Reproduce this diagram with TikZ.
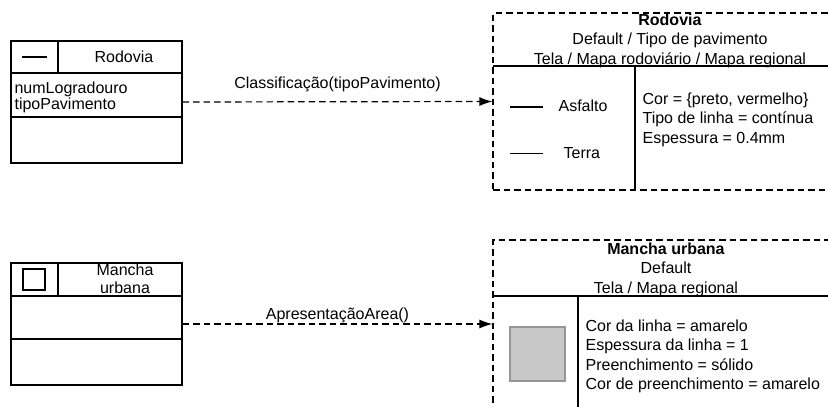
\documentclass[tikz,border=0pt]{standalone}
\usepackage{fontspec}
\setmainfont{Liberation Sans}
\usetikzlibrary{arrows.meta}
\definecolor{areafill}{RGB}{200,200,200}
\definecolor{areadraw}{RGB}{150,150,150}
\begin{document}
\begin{tikzpicture}[x=1pt,y=-1pt,line width=1.2pt,
  txt/.style={inner sep=0pt,font=\fontsize{16}{19.5}\selectfont},
  classbox/.style={draw,inner sep=0pt,minimum width=171pt,minimum height=122pt},
  legbox/.style={draw,inner sep=0pt,dash pattern=on 6.5pt off 4pt},
  dep/.style={-{Latex[length=13pt,width=9pt]},dash pattern=on 6.5pt off 4pt}]
  \useasboundingbox (0,0) rectangle (828,407);

  % classes on the left
  \node[classbox] (rod) at (96.5,102) {};
  \draw (11,73) -- (182,73);
  \draw (11,117) -- (182,117);
  \draw (58,41) -- (58,73);
  \draw (22,57) -- (47,57);
  \node[txt] (rodname) at (124,57) {Rodovia};
  \node[txt,align=left,anchor=west,font=\fontsize{16}{16.5}\selectfont] (rodattr) at (14,97.5) {numLogradouro\\tipoPavimento};

  \node[classbox] (mancha) at (96.5,324) {};
  \draw (11,296) -- (182,296);
  \draw (11,339) -- (182,339);
  \draw (58,263) -- (58,296);
  \draw (23,269) rectangle (45,290);
  \node[txt,align=center,font=\fontsize{16}{18}\selectfont] (manchaname) at (125,279) {Mancha\\urbana};

  % legends on the right
  \node[legbox,minimum width=357pt,minimum height=177pt] (rodleg) at (671.5,101.5) {};
  \draw (493,66) -- (850,66);
  \draw (635,66) -- (635,190);
  \node[txt,align=center,anchor=north] (rodhead) at (670,13) {\textbf{Rodovia}\\Default / Tipo de pavimento\\Tela / Mapa rodoviário / Mapa regional};
  \draw[line width=1.6pt] (510,107) -- (543,107);
  \node[txt,anchor=west] (asfalto) at (558,106) {Asfalto};
  \draw[line width=0.7pt] (510,153) -- (543,153);
  \node[txt,anchor=west] (terra) at (563,153) {Terra};
  \node[txt,align=left,anchor=north west] (rodprop) at (642,92) {Cor = \{preto, vermelho\}\\Tipo de linha = contínua\\Espessura = 0.4mm};

  \node[legbox,minimum width=357pt,minimum height=180pt] (manchaleg) at (671.5,330) {};
  \draw (493,296) -- (850,296);
  \draw (578,296) -- (578,420);
  \node[txt,align=center,anchor=north] (manchahead) at (666,242) {\textbf{Mancha urbana}\\Default\\Tela / Mapa regional};
  \draw[areadraw,fill=areafill] (510,327) rectangle (565,381);
  \node[txt,align=left,anchor=north west] (manchaprop) at (585,319) {Cor da linha = amarelo\\Espessura da linha = 1\\Preenchimento = sólido\\Cor de preenchimento = amarelo};

  % dependencies
  \coordinate (manchain) at (manchaleg.west |- mancha.east);
  \draw[dep] (rod.east) -- node[txt,above=9pt] {Classificação(tipoPavimento)} (rodleg.west);
  \draw[dep] (mancha.east) -- node[txt,above=0.5pt] {ApresentaçãoArea()} (manchain);
\end{tikzpicture}
\end{document}
